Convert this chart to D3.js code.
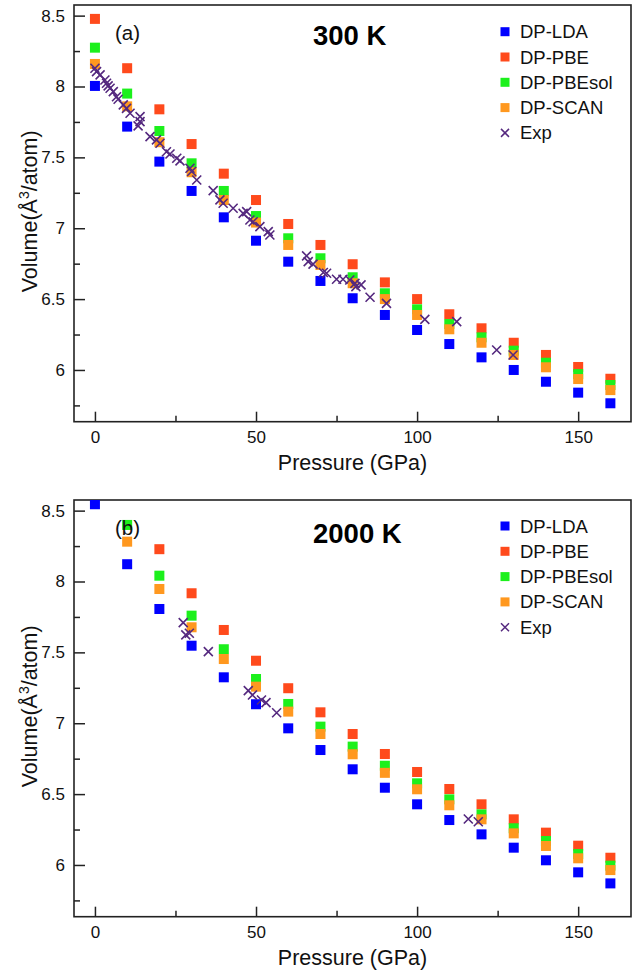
<!DOCTYPE html>
<html>
<head>
<meta charset="utf-8">
<script src="https://cdn.jsdelivr.net/npm/d3@7"></script>
<style>
  body { margin: 0; background: #fff; }
  svg { display: block; font-family: "Liberation Sans", Arial, sans-serif; }
</style>
</head>
<body>
<svg id="chart" width="642" height="973"></svg>
<script>
// ---------- data ----------
const pressures = [0, 10, 20, 30, 40, 50, 60, 70, 80, 90, 100, 110, 120, 130, 140, 150, 160];
const seriesNames = ["DP-LDA", "DP-PBE", "DP-PBEsol", "DP-SCAN", "Exp"];
const seriesColors = ["#0000ff", "#ff4a1c", "#1cf01c", "#ff981f", "#55297f"];

// 300 K
const lda300    = [8.004, 7.717, 7.470, 7.263, 7.077, 6.912, 6.764, 6.628, 6.506, 6.388, 6.282, 6.183, 6.089, 6.000, 5.917, 5.840, 5.765];
const pbe300    = [8.477, 8.129, 7.839, 7.594, 7.385, 7.199, 7.030, 6.882, 6.746, 6.618, 6.500, 6.393, 6.294, 6.192, 6.106, 6.021, 5.938];
const pbesol300 = [8.274, 7.950, 7.686, 7.458, 7.263, 7.086, 6.929, 6.788, 6.654, 6.541, 6.428, 6.324, 6.230, 6.136, 6.051, 5.971, 5.894];
const scan300   = [8.159, 7.860, 7.607, 7.395, 7.199, 7.040, 6.882, 6.741, 6.612, 6.500, 6.388, 6.287, 6.192, 6.106, 6.019, 5.936, 5.858];
const expP300 = [0.0, 0.5, 1.6, 3.1, 3.6, 4.1, 4.7, 5.7, 6.7, 7.2, 8.8, 9.8, 10.9, 14.0, 14.0, 13.4, 17.1, 19.1, 20.2, 22.2, 23.3, 25.4, 26.4, 29.5, 30.0, 31.6, 36.7, 38.8, 39.8, 42.9, 46.0, 47.1, 48.1, 49.1, 51.2, 53.8, 54.3, 65.7, 66.2, 67.7, 70.9, 71.9, 75.0, 77.0, 79.1, 80.7, 81.0, 82.6, 85.4, 90.5, 102.4, 112.3, 124.7, 129.8];
const expV300 = [8.129, 8.105, 8.082, 8.046, 8.023, 8.004, 7.988, 7.964, 7.928, 7.910, 7.870, 7.846, 7.811, 7.787, 7.752, 7.722, 7.646, 7.623, 7.600, 7.540, 7.524, 7.494, 7.475, 7.423, 7.400, 7.340, 7.265, 7.200, 7.176, 7.141, 7.105, 7.117, 7.058, 7.046, 7.011, 6.976, 6.952, 6.805, 6.764, 6.747, 6.688, 6.682, 6.640, 6.640, 6.635, 6.611, 6.588, 6.600, 6.513, 6.470, 6.357, 6.341, 6.141, 6.106];

// 2000 K (null = outside the plotted range)
const lda2000    = [8.545, 8.122, 7.806, 7.547, 7.324, 7.134, 6.964, 6.811, 6.675, 6.545, 6.428, 6.317, 6.216, 6.122, 6.033, 5.948, 5.870];
const pbe2000    = [null, null, 8.228, 7.917, 7.658, 7.441, 7.247, 7.077, 6.924, 6.783, 6.656, 6.536, 6.428, 6.322, 6.228, 6.136, 6.051];
const pbesol2000 = [null, 8.399, 8.041, 7.759, 7.522, 7.312, 7.136, 6.976, 6.835, 6.700, 6.576, 6.463, 6.357, 6.259, 6.169, 6.077, 5.995];
const scan2000   = [null, 8.281, 7.947, 7.677, 7.453, 7.258, 7.082, 6.924, 6.781, 6.650, 6.534, 6.421, 6.322, 6.223, 6.134, 6.047, 5.964];
const expP2000 = [27.4, 28.2, 29.3, 35.2, 47.6, 48.9, 51.7, 53.1, 56.4, 115.9, 119.0];
const expV2000 = [7.710, 7.623, 7.635, 7.505, 7.230, 7.199, 7.164, 7.145, 7.074, 6.324, 6.305];

const xTicks = [0, 50, 100, 150];
const xMinorTicks = [25, 75, 125];
const yTicks = [6, 6.5, 7, 7.5, 8, 8.5];
const yMinorTicks = [5.75, 6.25, 6.75, 7.25, 7.75, 8.25];
const panelLabels = ["(a)", "(b)"];
const panelTemps = ["300 K", "2000 K"];

// ---------- layout ----------
const svg = d3.select("#chart");
const left = 74, right = 631, panelH = 416.7;
const panelTops = [5, 500];

const x = d3.scaleLinear().domain([-6.5, 166.4]).range([left, right]);

const panels = [
  { dp: [lda300, pbe300, pbesol300, scan300], expP: expP300, expV: expV300 },
  { dp: [lda2000, pbe2000, pbesol2000, scan2000], expP: expP2000, expV: expV2000 }
];

panels.forEach((p, i) => {
  const top = panelTops[i];
  const bottom = top + panelH;
  const y = d3.scaleLinear().domain([5.635, 8.575]).range([bottom, top]);
  const g = svg.append("g");

  // clip
  const clipId = "clip" + i;
  svg.append("clipPath").attr("id", clipId)
    .append("rect").attr("x", left).attr("y", top).attr("width", right - left).attr("height", panelH);

  // axes (ticks pointing inward)
  const xAxis = d3.axisBottom(x).tickValues(xTicks).tickSizeInner(-10).tickSizeOuter(0).tickPadding(9.5).tickFormat(d3.format("d"));
  g.append("g").attr("transform", `translate(0,${bottom})`).call(xAxis);
  const xMinor = d3.axisBottom(x).tickValues(xMinorTicks).tickSize(-6).tickFormat("");
  g.append("g").attr("transform", `translate(0,${bottom})`).call(xMinor);

  const yAxis = d3.axisLeft(y).tickValues(yTicks).tickSizeInner(-11).tickSizeOuter(0).tickPadding(9).tickFormat(d => d3.format("")(d));
  g.append("g").attr("transform", `translate(${left},0)`).call(yAxis);
  const yMinor = d3.axisLeft(y).tickValues(yMinorTicks).tickSize(-6).tickFormat("");
  g.append("g").attr("transform", `translate(${left},0)`).call(yMinor);

  g.selectAll(".domain").remove();
  g.selectAll(".tick line").attr("stroke", "#222").attr("stroke-width", 1.5);
  g.selectAll(".tick text").attr("font-size", 17).attr("fill", "#111").attr("font-family", "Liberation Sans, Arial, sans-serif");

  // frame
  g.append("rect").attr("x", left).attr("y", top).attr("width", right - left).attr("height", panelH)
    .attr("fill", "none").attr("stroke", "#222").attr("stroke-width", 1.6);

  // axis titles
  g.append("text").attr("x", (left + right) / 2).attr("y", bottom + 48.5)
    .attr("text-anchor", "middle").attr("font-size", 21.5).attr("fill", "#111").text("Pressure (GPa)");
  const yt = g.append("text").attr("transform", `translate(37,${(top + bottom) / 2 - 2}) rotate(-90)`)
    .attr("text-anchor", "middle").attr("font-size", 21.5).attr("fill", "#111");
  yt.append("tspan").text("Volume(Å");
  yt.append("tspan").attr("font-size", 14).attr("dy", -8).text("3");
  yt.append("tspan").attr("dy", 8).text("/atom)");

  // points
  const pts = g.append("g").attr("clip-path", `url(#${clipId})`);
  const sq = 10;
  p.dp.forEach((vals, si) => {
    const data = pressures.map((P, k) => ({ P, V: vals[k] })).filter(d => d.V != null);
    pts.append("g").selectAll("rect").data(data).join("rect")
      .attr("x", d => x(d.P) - sq / 2).attr("y", d => y(d.V) - sq / 2)
      .attr("width", sq).attr("height", sq)
      .attr("fill", seriesColors[si]);
  });
  const expData = p.expP.map((P, k) => ({ P, V: p.expV[k] }));
  const cs = 4.5;
  pts.append("g").selectAll("path").data(expData).join("path")
    .attr("d", d => {
      const cx = x(d.P), cy = y(d.V);
      return `M${cx - cs},${cy - cs}L${cx + cs},${cy + cs}M${cx - cs},${cy + cs}L${cx + cs},${cy - cs}`;
    })
    .attr("stroke", seriesColors[4]).attr("stroke-width", 1.6).attr("fill", "none");

  // panel labels
  g.append("text").attr("x", 115).attr("y", top + 35).attr("font-size", 20.5).attr("fill", "#111").text(panelLabels[i]);
  g.append("text").attr("x", 313).attr("y", top + (i === 0 ? 40 : 43)).attr("font-size", 27.5).attr("font-weight", "bold")
    .attr("fill", "#000").text(panelTemps[i]);

  // legend
  const legTop = top + (i === 0 ? 26.7 : 26);
  seriesNames.forEach((name, si) => {
    const ly = legTop + si * 25.3;
    if (si < 4) {
      g.append("rect").attr("x", 500.5).attr("y", ly - 4.5).attr("width", 9).attr("height", 9).attr("fill", seriesColors[si]);
    } else {
      const c = 4;
      g.append("path").attr("d", `M${505 - c},${ly - c}L${505 + c},${ly + c}M${505 - c},${ly + c}L${505 + c},${ly - c}`)
        .attr("stroke", seriesColors[4]).attr("stroke-width", 1.5);
    }
    g.append("text").attr("x", 520).attr("y", ly + 6.5).attr("font-size", 18.5).attr("fill", "#111").text(name);
  });
});
</script>
</body>
</html>
